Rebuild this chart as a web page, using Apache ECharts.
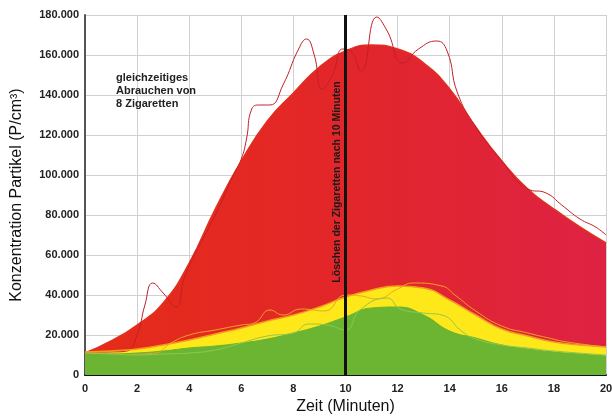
<!DOCTYPE html>
<html>
<head>
<meta charset="utf-8">
<script src="https://cdn.jsdelivr.net/npm/echarts@6/dist/echarts.min.js"></script>
<style>html,body{margin:0;padding:0;background:#fff;}#c{width:612px;height:417px;}</style>
</head>
<body>
<div id="c"></div>
<script>
// Smooth (fitted) curves, x in minutes, values in thousands of particles/cm³
const minutes = [0,1,2,3,4,5,6,7,8,9,10,11,12,13,14,15,16,17,18,19,20];
const redSmooth = [11,17,25,36,56,83,107,127,141,154,162,165,163,156,143,124,107,93,83,74,66];
const yellowSmooth = [11.5,12,13,15,17.5,20.5,23.5,27,30,34,39,42.5,44.5,43.5,37.5,30,23,19.5,16.5,15,14];
const greenSmooth = [10.5,10.5,11,12,13.5,14.5,16,18,21,24.5,29,33.5,34,30,22,18.5,15,13,11.5,10.5,9.5];

// Raw measurement lines
const redRawX = [0,1,1.6,2.0,2.3,2.6,3.0,3.5,3.8,4.2,5,5.7,6.0,6.2,6.4,6.7,7.1,7.6,8.2,8.5,8.8,9.1,9.5,9.9,10.2,10.6,11.2,11.6,12.2,12.8,13.5,13.9,14.3,15,16,17,17.7,18.3,19,19.6,20];
const redRawY = [11,11.5,12,20,35,46,41,34,48,60,80,100,108,118,133,135,135,145,163,168,160,143,150,163,162,152,179,172,156,163,167,162,141,124,107,93,91,85,78,74,70];
const yellowRawX = [0,1,2,2.7,3.3,4,5,6,6.5,7.1,7.6,8.3,9.2,10,10.6,11.2,12,12.6,13.7,14.2,15,16,17,17.8,18.5,20];
const yellowRawY = [11,11,10.5,11,16,20,22.5,25,26,32.5,30,33,32,40,39.5,38,43,46,44.5,40,32,24.5,21,18.5,16.5,14];
const greenRawX = [0,1,2,3,4,5,6,7,8,8.6,9.3,10,10.55,11.6,12.1,13,13.7,14.5,15,16,17,18,20];
const greenRawY = [11,10.5,10,10.5,11,12.5,16,19.5,21,25.5,25,22.5,32.5,38.5,33,31,30,21.5,18,15,13.5,12,10];

const yMax = 180000;
const stopMinute = 10;

const pairs = (xs, ys) => xs.map((x,i) => [x, ys[i]*1000]);

const chart = echarts.init(document.getElementById('c'), null, {renderer:'canvas'});
const fmtY = v => v === 0 ? '0' : (v/1000).toFixed(0) + '.000';
const FONT = "'Liberation Sans', Arial, sans-serif";

chart.setOption({
  animation: false,
  grid: {left: 85, right: 6, top: 15, bottom: 42, outerBoundsMode: 'none', containLabel: false},
  xAxis: {
    type: 'value', min: 0, max: 20, interval: 2,
    name: 'Zeit (Minuten)', nameLocation: 'middle', nameGap: 24,
    nameTextStyle: {fontFamily: FONT, fontSize: 16, color: '#111'},
    axisLine: {show: true, lineStyle: {color: '#111', width: 2}},
    axisTick: {show: false},
    axisLabel: {fontFamily: FONT, fontWeight: 'bold', fontSize: 11, color: '#222', margin: 8},
    splitLine: {show: true, lineStyle: {color: '#d0d0d0', width: 1}}
  },
  yAxis: {
    type: 'value', min: 0, max: yMax, interval: 20000,
    name: 'Konzentration Partikel (P/cm³)', nameLocation: 'middle', nameGap: 60,
    nameTextStyle: {fontFamily: FONT, fontSize: 16, color: '#111'},
    axisLine: {show: true, lineStyle: {color: '#555', width: 2}},
    axisTick: {show: false},
    axisLabel: {fontFamily: FONT, fontWeight: 'bold', fontSize: 11, color: '#222', margin: 6, formatter: fmtY},
    splitLine: {show: true, lineStyle: {color: '#d0d0d0', width: 1}}
  },
  series: [
    {
      type: 'line', smooth: true, showSymbol: false,
      data: pairs(minutes, redSmooth),
      lineStyle: {color: '#e2301e', width: 1.5},
      areaStyle: {opacity: 1, color: new echarts.graphic.LinearGradient(0,0,1,0,[
        {offset: 0, color: '#e52c18'}, {offset: 0.5, color: '#e2262a'}, {offset: 1, color: '#de2243'}])}
    },
    {
      type: 'line', smooth: true, showSymbol: false,
      data: pairs(redRawX, redRawY),
      lineStyle: {color: '#c21f2a', width: 1}
    },
    {
      type: 'line', smooth: true, showSymbol: false,
      data: pairs(minutes, yellowSmooth),
      lineStyle: {color: '#f39a1e', width: 1.5},
      areaStyle: {opacity: 1, color: '#ffe81a'}
    },
    {
      type: 'line', smooth: true, showSymbol: false,
      data: pairs(yellowRawX, yellowRawY),
      lineStyle: {color: '#f0a224', width: 1}
    },
    {
      type: 'line', smooth: true, showSymbol: false,
      data: pairs(minutes, greenSmooth),
      lineStyle: {color: '#6ab42e', width: 1},
      areaStyle: {opacity: 1, color: '#6cb533'}
    },
    {
      type: 'line', smooth: true, showSymbol: false,
      data: pairs(greenRawX, greenRawY),
      lineStyle: {color: '#8dc852', width: 1},
      markLine: {
        silent: true, symbol: ['none','none'],
        lineStyle: {color: '#111', width: 3, type: 'solid'},
        label: {show: false},
        data: [{xAxis: stopMinute}]
      }
    }
  ],
  graphic: [
    {
      type: 'text', left: 116, top: 71, z: 100,
      style: {text: 'gleichzeitiges\nAbrauchen von\n8 Zigaretten', fontFamily: FONT,
        fontWeight: 'bold', fontSize: 11, lineHeight: 13, fill: '#222'}
    },
    {
      type: 'text', x: 337, y: 182, rotation: Math.PI/2, z: 100,
      style: {text: 'Löschen der Zigaretten nach 10 Minuten', fontFamily: FONT,
        fontWeight: 'bold', fontSize: 10.5, fill: '#1a1a1a', align: 'center', verticalAlign: 'middle'}
    }
  ]
});
</script>
</body>
</html>
